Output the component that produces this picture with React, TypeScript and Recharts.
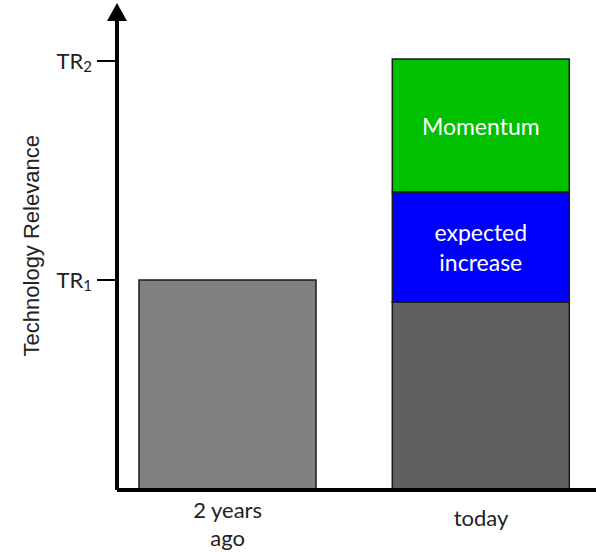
import { BarChart, Bar, XAxis, YAxis, Cell, LabelList } from "recharts";

const categories = ["2 years ago", "today"];
const baseValues = [100, 89.5];
const expectedValues = [0, 52.4];
const momentumValues = [0, 63.3];
const tickValues = [100, 204.3];
const tickNames = ["1", "2"];
const baseColors = ["#808080", "#606060"];

const data = categories.map((name, i) => ({
  name,
  base: baseValues[i],
  expected: expectedValues[i],
  momentum: momentumValues[i],
}));

const LATO = "Lato, 'Noto Sans', sans-serif";

const XTick = (props: any) => {
  const { x, y, payload } = props;
  const lines = payload.value === "2 years ago" ? ["2 years", "ago"] : [payload.value];
  return (
    <text x={x} y={y} textAnchor="middle" fontFamily={LATO} fontSize={22} fill="#222">
      {lines.map((l, i) => (
        <tspan key={i} x={x} dy={i === 0 ? (lines.length > 1 ? 20 : 28) : 28}>
          {l}
        </tspan>
      ))}
    </text>
  );
};

const YTick = (props: any) => {
  const { x, y, payload } = props;
  const idx = tickValues.indexOf(payload.value);
  return (
    <text x={x} y={y} textAnchor="end" dy={8} fontFamily={LATO} fontSize={22} fill="#222">
      TR
      <tspan fontSize={15} dy={3}>
        {tickNames[idx]}
      </tspan>
    </text>
  );
};

const segLabel = (lines: string[]) => (props: any) => {
  const { x, y, width, height, value } = props;
  if (!value || !height) return null;
  const cx = Number(x) + Number(width) / 2;
  const cy = Number(y) + Number(height) / 2;
  const lh = 30;
  const start = cy - ((lines.length - 1) * lh) / 2;
  return (
    <text textAnchor="middle" fontFamily={LATO} fontSize={23} fill="#fff" dominantBaseline="central">
      {lines.map((l, i) => (
        <tspan key={i} x={cx} y={start + i * lh}>
          {l}
        </tspan>
      ))}
    </text>
  );
};

export default function App() {
  return (
    <div style={{ position: "absolute", left: 0, top: 0, background: "#fff" }}>
      <BarChart
        width={596}
        height={552}
        data={data}
        margin={{ top: 17.5, right: 0, bottom: 0, left: 0 }}
        barSize={177}
      >
        <XAxis
          dataKey="name"
          height={62}
          padding={{ left: -16, right: -11.6 }}
          axisLine={{ stroke: "#000", strokeWidth: 4 }}
          tickLine={false}
          tick={<XTick />}
        />
        <YAxis
          width={117}
          domain={[0, 225]}
          ticks={tickValues}
          allowDataOverflow
          axisLine={{ stroke: "#000", strokeWidth: 4 }}
          tickLine={{ stroke: "#000", strokeWidth: 2 }}
          tickSize={20}
          tickMargin={5}
          tick={<YTick />}
          label={{
            content: (p: any) => {
              const cy = p.viewBox.y + p.viewBox.height / 2 - 8;
              return (
                <text
                  x={31}
                  y={cy}
                  transform={`rotate(-90, 31, ${cy})`}
                  textAnchor="middle"
                  dominantBaseline="central"
                  fontFamily="'Liberation Sans', Arial, sans-serif"
                  fontSize={22}
                  fill="#222"
                >
                  Technology Relevance
                </text>
              );
            },
          }}
        />
        <Bar dataKey="base" stackId="a" stroke="#1a1a1a" strokeWidth={1.5} isAnimationActive={false}>
          {data.map((_, i) => (
            <Cell key={i} fill={baseColors[i]} />
          ))}
        </Bar>
        <Bar dataKey="expected" stackId="a" fill="#0000ff" stroke="#1a1a1a" strokeWidth={1.5} isAnimationActive={false}>
          <LabelList dataKey="expected" content={segLabel(["expected", "increase"])} />
        </Bar>
        <Bar dataKey="momentum" stackId="a" fill="#00c000" stroke="#1a1a1a" strokeWidth={1.5} isAnimationActive={false}>
          <LabelList dataKey="momentum" content={segLabel(["Momentum"])} />
        </Bar>
        <polygon points="107,21 127,21 117,3" fill="#000" />
      </BarChart>
    </div>
  );
}
